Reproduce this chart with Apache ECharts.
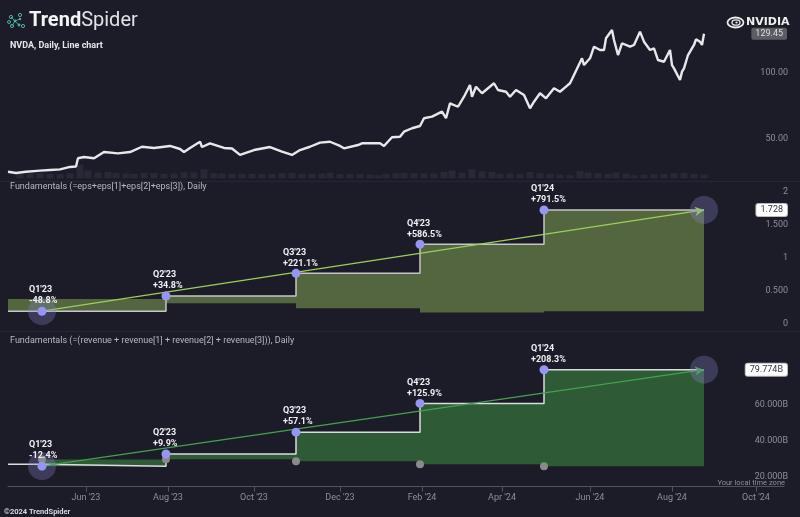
<!DOCTYPE html>
<html><head><meta charset="utf-8">
<script src="https://cdn.jsdelivr.net/npm/echarts@6/dist/echarts.min.js"></script>
<style>html,body{margin:0;padding:0;background:#1c1c29;}#c{width:800px;height:517px;}</style>
</head><body><div id="c"></div>
<script>
// ---------- data ----------
const holidays = ['2023-04-07','2023-05-29','2023-06-19','2023-07-04','2023-09-04','2023-11-23','2023-12-25',
  '2024-01-01','2024-01-15','2024-02-19','2024-03-29','2024-05-27','2024-06-19','2024-07-04','2024-09-02'];
const axisStart = '2023-04-05';
const axisEnd = '2024-10-21';

const priceDates = ['2023-04-05','2023-04-12','2023-04-19','2023-04-28','2023-05-05','2023-05-12','2023-05-19','2023-05-24','2023-05-25','2023-05-31',
 '2023-06-07','2023-06-14','2023-06-26','2023-07-05','2023-07-13','2023-07-21','2023-08-02','2023-08-09','2023-08-11','2023-08-16',
 '2023-08-23','2023-08-24','2023-08-30','2023-09-11','2023-09-15','2023-09-21','2023-10-02','2023-10-12','2023-10-20','2023-10-27',
 '2023-11-02','2023-11-09','2023-11-16','2023-11-24','2023-12-01','2023-12-05','2023-12-14','2023-12-18','2024-01-02','2024-01-04',
 '2024-01-10','2024-01-17','2024-01-19','2024-01-25','2024-01-31','2024-02-02','2024-02-08','2024-02-15','2024-02-20','2024-02-22',
 '2024-02-28','2024-03-04','2024-03-07','2024-03-08','2024-03-12','2024-03-15','2024-03-25','2024-03-27','2024-04-03','2024-04-05',
 '2024-04-10','2024-04-16','2024-04-19','2024-04-23','2024-04-26','2024-05-01','2024-05-07','2024-05-10','2024-05-15','2024-05-17',
 '2024-05-21','2024-05-28','2024-05-29','2024-06-03','2024-06-05','2024-06-10','2024-06-12','2024-06-13','2024-06-18','2024-06-20',
 '2024-06-24','2024-06-26','2024-07-02','2024-07-05','2024-07-10','2024-07-12','2024-07-17','2024-07-19','2024-07-23','2024-07-26',
 '2024-07-29','2024-07-31','2024-08-01','2024-08-02','2024-08-07','2024-08-08','2024-08-09','2024-08-13','2024-08-16','2024-08-19',
 '2024-08-21','2024-08-22','2024-08-23'];
const priceValues = [25.0,24.0,25.0,25.8,26.3,26.8,28.6,28.9,35.2,36.1,
 35.2,39.9,38.9,39.9,43.9,43.0,44.5,42.2,39.9,43.0,
 47.7,43.7,46.5,43.0,42.6,37.7,41.4,43.7,40.2,37.7,
 41.4,43.9,47.0,47.7,44.5,42.7,45.2,46.5,46.5,44.5,
 51.1,51.5,55.3,57.9,59.6,65.5,66.7,70.5,65.5,76.8,
 74.2,81.8,90.7,81.8,89.4,84.4,92.0,86.9,85.6,81.8,
 86.9,83.1,73.0,78.0,84.4,80.6,88.2,85.6,89.4,92.0,
 98.3,110.9,105.8,110.9,119.7,117.2,117.2,126.1,132.3,124.8,
 113.4,122.3,119.7,121.0,131.1,123.5,117.2,118.5,109.6,108.3,
 109.6,117.2,105.8,103.3,94.5,100.8,103.3,113.4,121.0,125.3,
 123.5,121.0,129.45];
const lastPrice = 129.45;

const volumeDates = ['2023-04-14','2023-04-21','2023-04-28','2023-05-05','2023-05-12','2023-05-19','2023-05-26','2023-06-02','2023-06-09','2023-06-16',
 '2023-06-23','2023-06-30','2023-07-07','2023-07-14','2023-07-21','2023-07-28','2023-08-04','2023-08-11','2023-08-18','2023-08-25',
 '2023-09-01','2023-09-08','2023-09-15','2023-09-22','2023-09-29','2023-10-06','2023-10-13','2023-10-20','2023-10-27','2023-11-03',
 '2023-11-10','2023-11-17','2023-11-24','2023-12-01','2023-12-08','2023-12-15','2023-12-22','2023-12-29','2024-01-05','2024-01-12',
 '2024-01-19','2024-01-26','2024-02-02','2024-02-09','2024-02-16','2024-02-23','2024-03-01','2024-03-08','2024-03-15','2024-03-22',
 '2024-03-28','2024-04-05','2024-04-12','2024-04-19','2024-04-26','2024-05-03','2024-05-10','2024-05-17','2024-05-24','2024-05-31',
 '2024-06-07','2024-06-14','2024-06-21','2024-06-28','2024-07-05','2024-07-12','2024-07-19','2024-07-26','2024-08-02','2024-08-09',
 '2024-08-16','2024-08-23'];
const volumeValues = [420,450,480,420,400,480,1300,750,550,600,
 500,450,420,520,500,430,450,580,560,850,
 480,450,420,430,420,400,420,480,500,430,
 420,440,520,400,400,420,350,300,420,480,
 500,480,470,450,600,750,520,850,650,600,
 450,450,400,600,480,420,350,300,700,550,
 480,420,550,450,300,350,380,420,480,520,
 400,350];

const quarterNames = ["Q1'23","Q2'23","Q3'23","Q4'23","Q1'24"];
const quarterDates = ['2023-05-01','2023-07-31','2023-10-31','2024-01-31','2024-04-30'];
const lastDate = '2024-08-23';
const epsValues  = [0.194,0.424,0.768,1.208,1.728];
const epsYearAgo = [0.379,0.315,0.239,0.176,0.194];
const epsChange  = ['-48.8%','+34.8%','+221.1%','+586.5%','+791.5%'];
const revPrior   = 26.974;
const revValues  = [25.878,32.681,44.870,60.922,79.774];
const revYearAgo = [29.538,29.736,28.564,26.974,25.878];
const revChange  = ['-12.4%','+9.9%','+57.1%','+125.9%','+208.3%'];

const priceTicks = [50,100];
const epsTicks = [0,0.5,1,1.5,2];
const revTicks = [20,40,60];
const monthNames = ['Jan','Feb','Mar','Apr','May','Jun','Jul','Aug','Sep','Oct','Nov','Dec'];
const labelMonths = [1,3,5,7,9,11];

// ---------- trading-day categories ----------
const cats = [];
(function(){
  const s = Date.parse(axisStart+'T00:00:00Z'), e = Date.parse(axisEnd+'T00:00:00Z');
  for (let t=s; t<=e; t+=86400000){
    const d = new Date(t), wd = d.getUTCDay(), str = d.toISOString().slice(0,10);
    if (wd===0||wd===6||holidays.indexOf(str)>=0) continue;
    cats.push(str);
  }
})();
function idx(s){ for (let i=0;i<cats.length;i++) if (cats[i]>=s) return i; return cats.length-1; }
function isLabelDay(i){
  if (i===0) return false;
  const m = +cats[i].slice(5,7)-1;
  return cats[i-1].slice(0,7)!==cats[i].slice(0,7) && labelMonths.indexOf(m)>=0;
}

const qIdx = quarterDates.map(idx);
const lastIdx = idx(lastDate);

const GRID = [
  {left:8, right:16, top:19.9, height:158.4},
  {left:8, right:16, top:185.4, height:138.6},
  {left:8, right:16, top:351.4, height:135.3}
];
const LBL = '#8d8d9b';
const FONT = 'Roboto, "Noto Sans", sans-serif';

function xAx(g, show){
  return {type:'category', gridIndex:g, data:cats, boundaryGap:false, show:show,
    axisLine:{show:true, lineStyle:{color:'#50525f', width:1}},
    axisTick:{show:true, interval:(i)=>isLabelDay(i), length:5, lineStyle:{color:'#50525f'}},
    axisLabel:{show:true, interval:(i)=>isLabelDay(i), color:LBL, fontSize:9, fontFamily:FONT, margin:7,
      formatter:(v)=>monthNames[+v.slice(5,7)-1]+" '"+v.slice(2,4)},
    splitLine:{show:false}};
}
function yAx(g, min, max, ticks, fmt){
  return {type:'value', gridIndex:g, min:min, max:max, position:'right',
    axisLine:{show:false}, axisTick:{show:false}, splitLine:{show:false},
    axisLabel:{inside:true, margin:-4, customValues:ticks, formatter:fmt, color:LBL, fontSize:9, fontFamily:FONT}};
}

function bandSeries(starts, ends, cur, ago, xi, yi, color){
  return {type:'custom', xAxisIndex:xi, yAxisIndex:yi, z:1, silent:true,
    encode:{x:[0,1], y:[2,3]},
    data: cur.map((v,i)=>[starts[i], ends[i], Math.min(v,ago[i]), Math.max(v,ago[i])]),
    renderItem:(params, api)=>{
      const a = api.coord([api.value(0), api.value(3)]);
      const b = api.coord([api.value(1), api.value(2)]);
      return {type:'rect', shape:{x:a[0], y:a[1], width:b[0]-a[0], height:b[1]-a[1]}, style:{fill:color}};
    }};
}
function markerSeries(vals, changes, xi, yi){
  return {type:'scatter', xAxisIndex:xi, yAxisIndex:yi, z:6, symbolSize:9,
    itemStyle:{color:'#9595f3', opacity:1},
    data: vals.map((v,i)=>[qIdx[i], v]),
    label:{show:true, position:'top', align:'left', offset:[-13,5], color:'#f0f0f4', fontSize:9, fontWeight:'bold',
      fontFamily:FONT, lineHeight:11, formatter:(p)=>quarterNames[p.dataIndex]+'\n'+changes[p.dataIndex]}};
}
function glowSeries(v0, v1, xi, yi, lineColor){
  return {type:'scatter', xAxisIndex:xi, yAxisIndex:yi, z:4, symbolSize:28, silent:true,
    itemStyle:{color:'rgba(135,135,205,0.3)', opacity:1},
    data:[[qIdx[0], v0],[lastIdx, v1]],
    markLine:{silent:true, symbol:['none','arrow'], symbolSize:[7,9], label:{show:false}, z:3,
      lineStyle:{color:lineColor, width:1.2, type:'solid', opacity:1},
      data:[[{coord:[qIdx[0], v0]},{coord:[lastIdx, v1]}]]}};
}
function tagSeries(v, xi, yi, bg, fg, fmt, border){
  return {type:'scatter', xAxisIndex:xi, yAxisIndex:yi, z:10, symbolSize:1, itemStyle:{color:'rgba(0,0,0,0)', opacity:1}, silent:true,
    data:[[cats.length-1, v]],
    label:{show:true, position:'inside', align:'right', verticalAlign:'middle', offset:[3,0], formatter:fmt,
      backgroundColor:bg, color:fg, fontSize:9, fontFamily:FONT, padding:[2,4,1,4], borderRadius:2,
      borderColor:border||bg, borderWidth:border?1:0}};
}

const epsStarts = [0].concat(qIdx.slice(1));
const epsEnds = qIdx.slice(1).concat([lastIdx]);
const revStarts = qIdx.slice();
const revEnds = qIdx.slice(1).concat([lastIdx]);

const epsLine = [[0, epsValues[0]]].concat(epsValues.slice(1).map((v,i)=>[qIdx[i+1], v])).concat([[lastIdx, epsValues[4]]]);
const revLine = [[0, revPrior]].concat(revValues.map((v,i)=>[qIdx[i], v])).concat([[lastIdx, revValues[4]]]);

const IC = '#4fb3a2';
const option = {
  backgroundColor:'#1c1c29',
  animation:false,
  grid: GRID,
  xAxis:[xAx(0,false), xAx(1,false), xAx(2,true)],
  yAxis:[
    yAx(0, 20, 140, priceTicks, (v)=>v.toFixed(2)),
    {type:'value', gridIndex:0, min:0, max:15000, show:false},
    yAx(1, 0, 2.1, epsTicks, (v)=> (v%1===0? String(v) : v.toFixed(3))),
    yAx(2, 14.4, 90, revTicks, (v)=>v.toFixed(3)+'B')
  ],
  series:[
    {type:'bar', xAxisIndex:0, yAxisIndex:1, barWidth:7, silent:true, z:1,
      itemStyle:{color:'rgba(120,125,150,0.13)'},
      data: volumeDates.map((d,i)=>[idx(d), volumeValues[i]])},
    {type:'line', xAxisIndex:0, yAxisIndex:0, showSymbol:false, z:3, silent:true,
      lineStyle:{color:'#e8e8ea', width:2.4},
      data: priceDates.map((d,i)=>[idx(d), priceValues[i]])},
    tagSeries(lastPrice, 0, 0, '#5c5c63', '#dedee2', ()=>lastPrice.toFixed(2), null),

    bandSeries(epsStarts, epsEnds, epsValues, epsYearAgo, 1, 2, '#53663f'),
    {type:'line', xAxisIndex:1, yAxisIndex:2, step:'end', showSymbol:false, z:2, silent:true,
      lineStyle:{color:'#c6c6c8', width:1.5}, data:epsLine},
    glowSeries(epsValues[0], epsValues[4], 1, 2, '#9ccf5e'),
    markerSeries(epsValues, epsChange, 1, 2),
    tagSeries(epsValues[4], 1, 2, '#ffffff', '#333340', ()=>epsValues[4].toFixed(3), '#bbbbbb'),

    bandSeries(revStarts, revEnds, revValues, revYearAgo, 2, 3, '#2e5a35'),
    {type:'line', xAxisIndex:2, yAxisIndex:3, step:'end', showSymbol:false, z:2, silent:true,
      lineStyle:{color:'#dcdcde', width:1.5}, data:revLine},
    {type:'scatter', xAxisIndex:2, yAxisIndex:3, z:5, symbolSize:8, silent:true,
      itemStyle:{color:'#8a8a8c', opacity:1}, data: revYearAgo.map((v,i)=>[qIdx[i], v])},
    glowSeries(revValues[0], revValues[4], 2, 3, '#45a04f'),
    markerSeries(revValues, revChange, 2, 3),
    tagSeries(revValues[4], 2, 3, '#ffffff', '#333340', ()=>revValues[4].toFixed(3)+'B', '#bbbbbb')
  ],
  graphic:[
    {type:'rect', shape:{x:0, y:181, width:800, height:1}, style:{fill:'#262636'}, silent:true},
    {type:'rect', shape:{x:0, y:331, width:800, height:1}, style:{fill:'#262636'}, silent:true},
    // TrendSpider logo icon
    {type:'line', silent:true, shape:{x1:11,y1:17,x2:15,y2:21}, style:{stroke:'#3f9e8f', lineWidth:1}},
    {type:'line', silent:true, shape:{x1:15,y1:21,x2:12,y2:26}, style:{stroke:'#3f9e8f', lineWidth:1}},
    {type:'line', silent:true, shape:{x1:15,y1:21,x2:20,y2:19}, style:{stroke:'#3f9e8f', lineWidth:1}},
    {type:'line', silent:true, shape:{x1:15,y1:21,x2:19,y2:25}, style:{stroke:'#3f9e8f', lineWidth:1}},
    {type:'circle', silent:true, shape:{cx:11,cy:17,r:1.6}, style:{fill:'none', stroke:IC, lineWidth:1}},
    {type:'circle', silent:true, shape:{cx:20,cy:15,r:1.6}, style:{fill:'none', stroke:IC, lineWidth:1}},
    {type:'circle', silent:true, shape:{cx:15,cy:21,r:1.4}, style:{fill:IC}},
    {type:'circle', silent:true, shape:{cx:20,cy:19,r:1.2}, style:{fill:IC}},
    {type:'circle', silent:true, shape:{cx:9,cy:22,r:1.5}, style:{fill:'none', stroke:IC, lineWidth:1}},
    {type:'circle', silent:true, shape:{cx:12,cy:26,r:1.6}, style:{fill:'none', stroke:IC, lineWidth:1}},
    {type:'circle', silent:true, shape:{cx:19,cy:25,r:1.4}, style:{fill:IC}},
    {type:'circle', silent:true, shape:{cx:23,cy:26,r:1.6}, style:{fill:'none', stroke:IC, lineWidth:1}},
    {type:'text', left:29, top:11, silent:true, style:{text:'{a|Trend}{b|Spider}', rich:{
      a:{fontSize:20, fontWeight:'bold', fill:'#f4f4f6', fontFamily:FONT},
      b:{fontSize:20, fontWeight:'normal', fill:'#e2e2e6', fontFamily:FONT}}}},
    {type:'text', left:10, top:41, silent:true, style:{text:'NVDA, Daily, Line chart', fontSize:9, fontWeight:'bold', fill:'#e6e6ea', fontFamily:FONT}},
    {type:'text', left:10, top:182, silent:true, style:{text:'Fundamentals (=eps+eps[1]+eps[2]+eps[3]), Daily', fontSize:9, fill:'#b8b8c2', fontFamily:FONT}},
    {type:'text', left:10, top:336, silent:true, style:{text:'Fundamentals (=(revenue + revenue[1] + revenue[2] + revenue[3])), Daily', fontSize:9, fill:'#b8b8c2', fontFamily:FONT}},
    // NVIDIA logo
    {type:'ellipse', silent:true, shape:{cx:735.5, cy:22.5, rx:8, ry:5}, style:{fill:'none', stroke:'#eeeeee', lineWidth:1.8}},
    {type:'ellipse', silent:true, shape:{cx:736, cy:22.5, rx:4, ry:2.7}, style:{fill:'none', stroke:'#eeeeee', lineWidth:1.3}},
    {type:'circle', silent:true, shape:{cx:736.5, cy:22.5, r:1.1}, style:{fill:'#eeeeee'}},
    {type:'text', left:746, top:16.5, silent:true, style:{text:'NVIDIA', fontSize:11, fontWeight:'bold', fill:'#eeeeee', fontFamily:'"DejaVu Sans", sans-serif'}},
    {type:'text', right:15, top:479, silent:true, style:{text:'Your local time zone', fontSize:7.5, fill:'#8d8d9b', fontFamily:FONT}},
    {type:'text', left:4, top:508, silent:true, style:{text:'©2024 TrendSpider', fontSize:7.5, fontWeight:'bold', fill:'#d8d8dc', fontFamily:FONT}}
  ]
};
const chart = echarts.init(document.getElementById('c'), null, {width:800, height:517});
chart.setOption(option);
</script>
</body></html>
